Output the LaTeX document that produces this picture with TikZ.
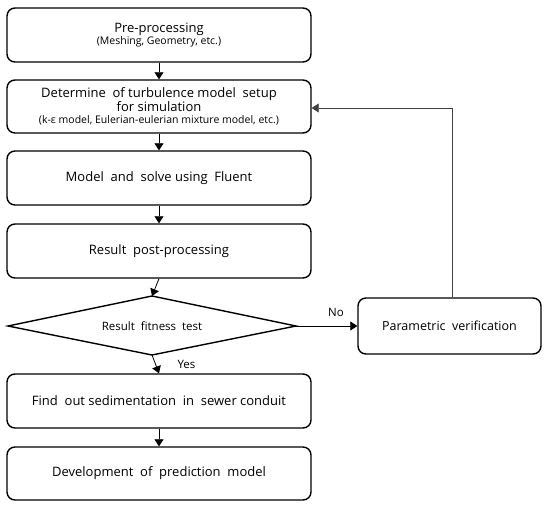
\documentclass[tikz,border=0pt]{standalone}
\usepackage{fontspec}
\setmainfont{Open Sans}
\usetikzlibrary{arrows.meta}
\begin{document}
\begin{tikzpicture}[x=1pt,y=-1pt,
  proc/.style={draw,line width=1.4pt,rounded corners=8pt,align=center,inner sep=0pt},
  conn/.style={line width=0.8pt,-{Triangle[width=9pt,length=7pt]}},
  big/.style={font=\fontsize{13}{15}\selectfont}]
\useasboundingbox (0,0) rectangle (550,508);
\node[proc,big,minimum width=304pt,minimum height=54pt] (b1) at (159,35) {Pre-processing\\[-3pt]{\fontsize{10.5}{11}\selectfont(Meshing, Geometry, etc.)}};
\node[proc,big,minimum width=304pt,minimum height=53pt] (b2) at (159,106.5) {Determine\ \ of turbulence model\ \ setup\\[-1pt]for simulation\\[-3pt]{\fontsize{10.5}{11}\selectfont(k-ε model, Eulerian-eulerian mixture model, etc.)}};
\node[proc,big,minimum width=304pt,minimum height=54pt] (b3) at (159,178) {Model\ \ and\ \ solve using\ \ Fluent};
\node[proc,big,minimum width=304pt,minimum height=54pt] (b4) at (159,251) {Result\ \ post-processing};
\coordinate (dc) at (152,326);
\node[font=\fontsize{11.5}{13}\selectfont] (dt) at (dc) {Result\ \ fitness\ \ test};
\coordinate (dtop) at (152,296);
\coordinate (dbot) at (152,355);
\coordinate (dl) at (8,326);
\coordinate (dr) at (296,326);
\draw[line width=1.4pt,line join=miter] (dl) -- (dtop) -- (dr) -- (dbot) -- cycle;
\node[proc,minimum width=183pt,minimum height=56pt,font=\fontsize{12.5}{14}\selectfont] (pv) at (449.5,326) {Parametric\ \ verification};
\node[proc,big,minimum width=304pt,minimum height=54pt] (b5) at (159,401) {Find\ \ out sedimentation\ \ in\ \ sewer conduit};
\node[proc,big,minimum width=304pt,minimum height=53pt] (b6) at (159,473.5) {Development\ \ of\ \ prediction\ \ model};
\draw[conn] (b1.south) -- (b2.north);
\draw[conn] (b2.south) -- (b3.north);
\draw[conn] (b3.south) -- (b4.north);
\draw[conn] (b4.south) -- (dtop);
\draw[conn] (dbot) -- (b5.north);
\draw[conn] (b5.south) -- (b6.north);
\draw[conn] (dr) -- (pv.west);
\coordinate (fb) at (452,108);
\draw[conn,black!75] (pv.north -| fb) -- (fb) -- (b2.east |- fb);
\node[font=\fontsize{11.5}{13}\selectfont,anchor=south] (no) at (336,320) {No};
\node[font=\fontsize{11.5}{13}\selectfont,anchor=west] (yes) at (174,364) {Yes};
\end{tikzpicture}
\end{document}
